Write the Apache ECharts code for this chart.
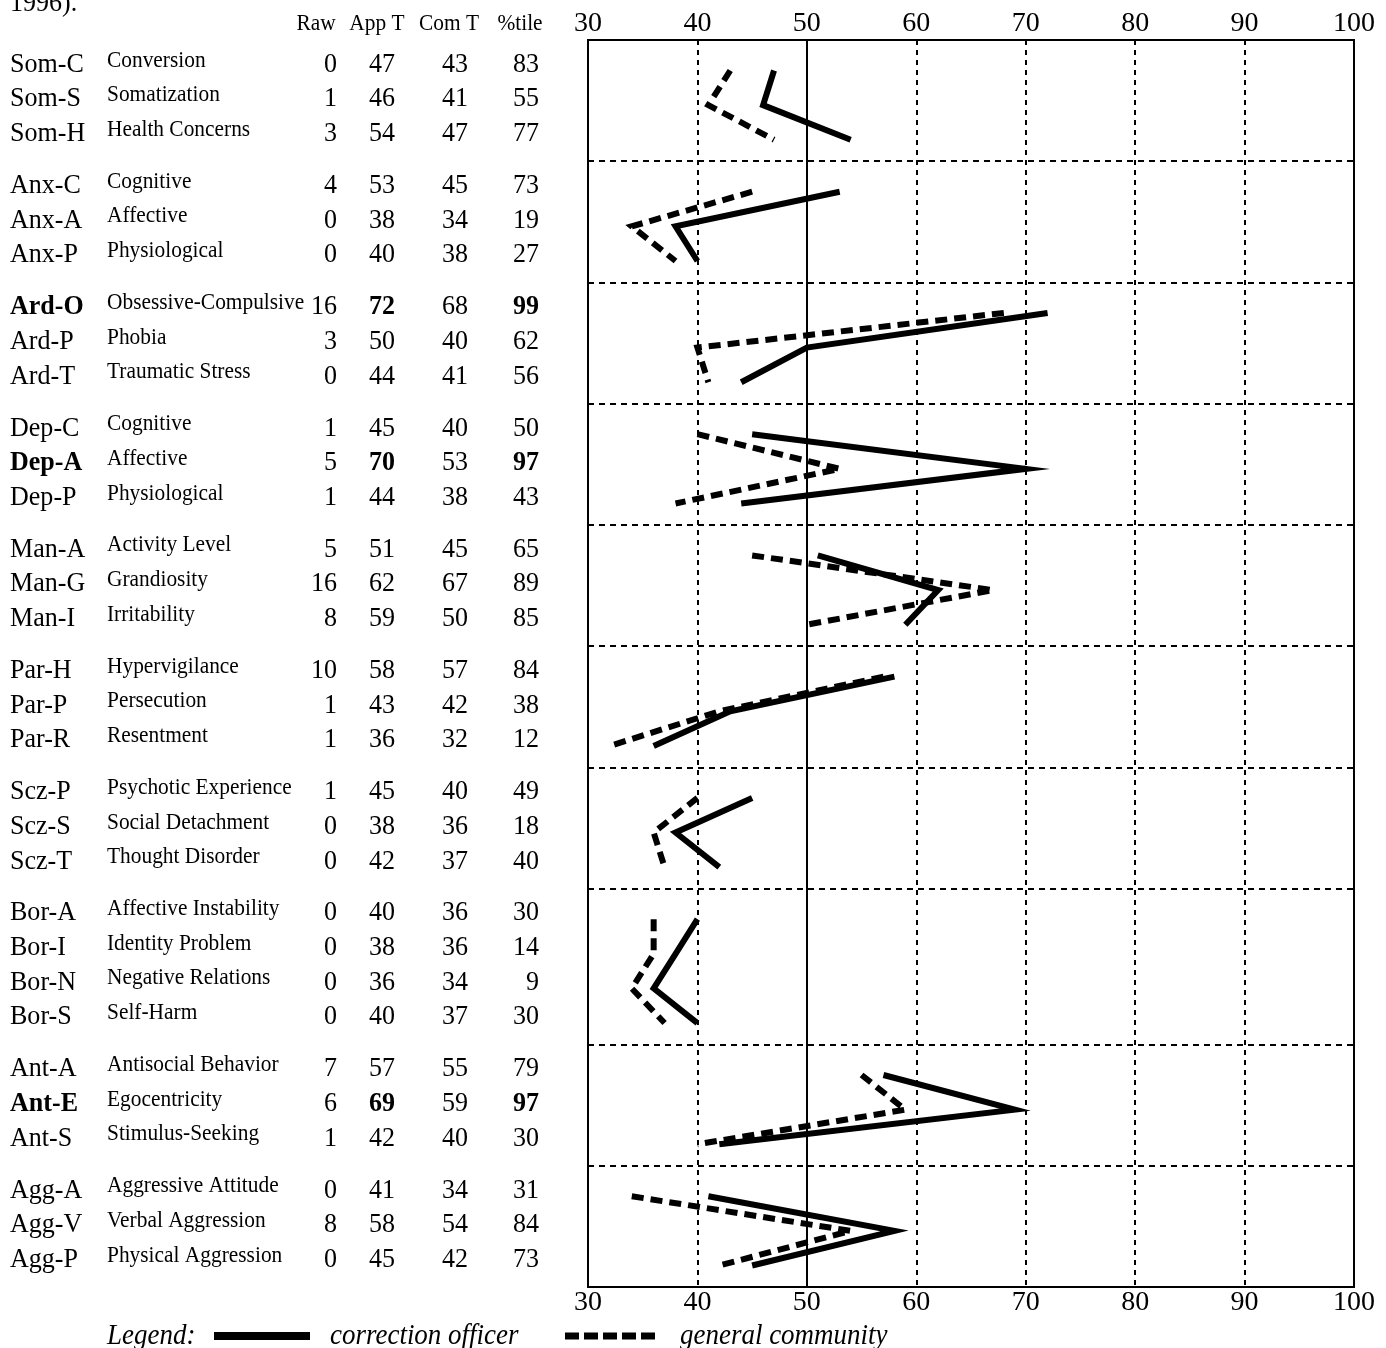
<!DOCTYPE html>
<html>
<head>
<meta charset="utf-8">
<script src="https://cdn.jsdelivr.net/npm/echarts@6/dist/echarts.min.js"></script>
<style>
html,body{margin:0;padding:0;background:#fff;}
#chart{width:1386px;height:1348px;}
</style>
</head>
<body>
<div id="chart"></div>
<script>
// ---- data ----
const codes = ['Som-C','Som-S','Som-H','Anx-C','Anx-A','Anx-P','Ard-O','Ard-P','Ard-T','Dep-C','Dep-A','Dep-P','Man-A','Man-G','Man-I','Par-H','Par-P','Par-R','Scz-P','Scz-S','Scz-T','Bor-A','Bor-I','Bor-N','Bor-S','Ant-A','Ant-E','Ant-S','Agg-A','Agg-V','Agg-P'];
const names = ['Conversion','Somatization','Health Concerns','Cognitive','Affective','Physiological','Obsessive-Compulsive','Phobia','Traumatic Stress','Cognitive','Affective','Physiological','Activity Level','Grandiosity','Irritability','Hypervigilance','Persecution','Resentment','Psychotic Experience','Social Detachment','Thought Disorder','Affective Instability','Identity Problem','Negative Relations','Self-Harm','Antisocial Behavior','Egocentricity','Stimulus-Seeking','Aggressive Attitude','Verbal Aggression','Physical Aggression'];
const raw    = [0,1,3,4,0,0,16,3,0,1,5,1,5,16,8,10,1,1,1,0,0,0,0,0,0,7,6,1,0,8,0];
const appT   = [47,46,54,53,38,40,72,50,44,45,70,44,51,62,59,58,43,36,45,38,42,40,38,36,40,57,69,42,41,58,45];
const comT   = [43,41,47,45,34,38,68,40,41,40,53,38,45,67,50,57,42,32,40,36,37,36,36,34,37,55,59,40,34,54,42];
const pctile = [83,55,77,73,19,27,99,62,56,50,97,43,65,89,85,84,38,12,49,18,40,30,14,9,30,79,97,30,31,84,73];
const elevated = ['Ard-O','Dep-A','Ant-E'];
const headers = ['Raw','App T','Com T','%tile'];
const xTicks = [30,40,50,60,70,80,90,100];
const seriesNames = ['correction officer','general community'];
const captionTail = '1996).';

// ---- layout constants ----
const ROW_OFFSET = 0.88, GROUP_GAP = 0.5;
const FONT = '"Liberation Serif", "Times New Roman", serif';
const SX = 0.93;

// groups
const groups = [];
codes.forEach((c, i) => {
  const g = c.split('-')[0];
  if (!groups.length || groups[groups.length - 1].key !== g) groups.push({key: g, idx: []});
  groups[groups.length - 1].idx.push(i);
});
const yPos = [];
const boundaries = [];
let cursor = 0;
groups.forEach((grp, k) => {
  grp.idx.forEach((i, j) => { yPos[i] = cursor + ROW_OFFSET + j; });
  cursor += grp.idx.length + GROUP_GAP;
  if (k < groups.length - 1) boundaries.push(cursor);
});
const yMax = cursor;

function lineData(vals) {
  const out = [];
  groups.forEach((grp, k) => {
    if (k > 0) out.push(['-', '-']);
    grp.idx.forEach(i => out.push([vals[i], yPos[i]]));
  });
  return out;
}

// table cells
const COL = {code: 10, name: 107, raw: 337, app: 382, com: 455, pct: 539};
const cells = [];
codes.forEach((c, i) => {
  const b = elevated.indexOf(c) >= 0;
  cells.push({x: COL.code, y: yPos[i], text: c, size: 28, bold: b, align: 'left', dy: -6});
  cells.push({x: COL.name, y: yPos[i], text: names[i], size: 23, bold: false, align: 'left', dy: -10});
  cells.push({x: COL.raw, y: yPos[i], text: String(raw[i]), size: 28, bold: false, align: 'right', dy: -6});
  cells.push({x: COL.app, y: yPos[i], text: String(appT[i]), size: 28, bold: b, align: 'center', dy: -6});
  cells.push({x: COL.com, y: yPos[i], text: String(comT[i]), size: 28, bold: false, align: 'center', dy: -6});
  cells.push({x: COL.pct, y: yPos[i], text: String(pctile[i]), size: 28, bold: b, align: 'right', dy: -6});
});
const headerX = [316, 377, 449, 520];
headers.forEach((h, k) => {
  cells.push({x: headerX[k], y: 0, text: h, size: 23, bold: false, align: 'center', dy: -16});
});

const chart = echarts.init(document.getElementById('chart'), null, {renderer: 'canvas'});

const axisLabelStyle = {color: '#000', fontFamily: FONT, fontSize: 28};

const option = {
  animation: false,
  backgroundColor: '#fff',
  grid: [
    {left: 588, right: 32, top: 40, bottom: 61, show: true, borderWidth: 2, borderColor: '#000', backgroundColor: 'transparent', z: 3},
    {left: 0, width: 588, top: 40, bottom: 61, show: false}
  ],
  xAxis: [
    {gridIndex: 0, type: 'value', position: 'bottom', min: 30, max: 100, interval: 10,
     axisLine: {show: false}, axisTick: {show: false},
     axisLabel: Object.assign({margin: 2}, axisLabelStyle),
     splitLine: {show: true, lineStyle: {color: '#000', width: 2, type: [5, 5]}}},
    {gridIndex: 0, type: 'value', position: 'top', min: 30, max: 100, interval: 10,
     axisLine: {show: false}, axisTick: {show: false},
     axisLabel: Object.assign({margin: 2}, axisLabelStyle),
     splitLine: {show: false}},
    {gridIndex: 1, type: 'value', min: 0, max: 588, show: false}
  ],
  yAxis: [
    {gridIndex: 0, type: 'value', inverse: true, min: 0, max: yMax, show: false, splitLine: {show: false}},
    {gridIndex: 1, type: 'value', inverse: true, min: 0, max: yMax, show: false, splitLine: {show: false}}
  ],
  series: [
    {
      name: seriesNames[0], type: 'line', xAxisIndex: 0, yAxisIndex: 0,
      data: lineData(appT), showSymbol: false, symbol: 'none', connectNulls: false,
      lineStyle: {color: '#000', width: 6, type: 'solid', cap: 'butt', join: 'miter', miterLimit: 20},
      z: 5,
      markLine: {
        silent: true, symbol: 'none', animation: false,
        label: {show: false},
        data: [
          {xAxis: 50, lineStyle: {color: '#000', width: 2, type: 'solid'}}
        ].concat(boundaries.map(b => ({yAxis: b, lineStyle: {color: '#000', width: 2, type: [6, 5]}})))
      }
    },
    {
      name: seriesNames[1], type: 'line', xAxisIndex: 0, yAxisIndex: 0,
      data: lineData(comT), showSymbol: false, symbol: 'none', connectNulls: false,
      lineStyle: {color: '#000', width: 6, type: [12, 7], cap: 'butt', join: 'miter', miterLimit: 20},
      z: 5
    },
    {
      type: 'custom', xAxisIndex: 2, yAxisIndex: 1, clip: false,
      data: cells.map(c => [c.x, c.y]),
      renderItem: function (params, api) {
        const c = cells[params.dataIndex];
        const pt = api.coord([api.value(0), api.value(1)]);
        return {
          type: 'text', x: pt[0], y: pt[1] + c.dy, scaleX: SX,
          style: {
            text: c.text, fill: '#000',
            font: (c.bold ? 'bold ' : '') + c.size + 'px ' + FONT,
            align: c.align, verticalAlign: 'middle'
          }
        };
      }
    }
  ],
  graphic: [
    {type: 'text', x: 10, y: 4, scaleX: SX, style: {text: captionTail, font: '28px ' + FONT, fill: '#000', align: 'left', verticalAlign: 'middle'}},
    {type: 'text', x: 107, y: 1336, scaleX: SX, style: {text: 'Legend:', font: 'italic 29px ' + FONT, fill: '#000', align: 'left', verticalAlign: 'middle'}},
    {type: 'line', shape: {x1: 214, y1: 1336, x2: 310, y2: 1336}, style: {stroke: '#000', lineWidth: 8}},
    {type: 'text', x: 330, y: 1336, scaleX: SX, style: {text: seriesNames[0], font: 'italic 29px ' + FONT, fill: '#000', align: 'left', verticalAlign: 'middle'}},
    {type: 'line', shape: {x1: 565, y1: 1336, x2: 660, y2: 1336}, style: {stroke: '#000', lineWidth: 7, lineDash: [14, 5]}},
    {type: 'text', x: 680, y: 1336, scaleX: SX, style: {text: seriesNames[1], font: 'italic 29px ' + FONT, fill: '#000', align: 'left', verticalAlign: 'middle'}}
  ]
};
chart.setOption(option);
</script>
</body>
</html>
